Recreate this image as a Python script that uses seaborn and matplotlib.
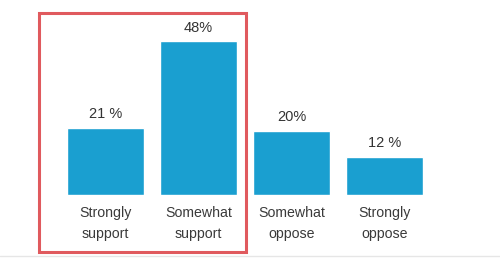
import matplotlib
matplotlib.use("Agg")
import matplotlib.pyplot as plt
import seaborn as sns
import pandas as pd
from matplotlib.patches import Rectangle
from matplotlib.lines import Line2D

categories = ["Strongly\nsupport", "Somewhat\nsupport", "Somewhat\noppose", "Strongly\noppose"]
values = [21, 48, 20, 12]
value_labels = ["21 %", "48%", "20%", "12 %"]

sns.set_theme(style="white")
plt.rcParams['font.family'] = ['Liberation Sans', 'DejaVu Sans']

W, H = 500, 260
fig = plt.figure(figsize=(5, 2.6), dpi=100)
fig.patch.set_facecolor("white")
bottom_px = 65
ax = fig.add_axes([0, bottom_px / H, 1, (H - bottom_px) / H])

df = pd.DataFrame({"cat": categories, "val": values})
sns.barplot(data=df, x="cat", y="val", color="#1a9fd0", saturation=1, width=0.83, ax=ax)

scale = 3.2
ax.set_xlim(-105.5 / 93, (W - 105.5) / 93)
ax.set_ylim(0, (H - bottom_px) / scale)

for i, (v, lab) in enumerate(zip(values, value_labels)):
    ax.annotate(lab, (i, v), xytext=(0, 10), textcoords="offset points",
                ha="center", va="center", fontsize=10.5, color="#333333")

ax.set_xlabel("")
ax.set_ylabel("")
ax.set_yticks([])
ax.tick_params(axis="x", length=0, pad=8, labelsize=10.2, labelcolor="#3a3a3a")
for lbl in ax.get_xticklabels():
    lbl.set_linespacing(1.65)
for s in ax.spines.values():
    s.set_visible(False)

# highlight box
rect = Rectangle((39 / W, 1 - 252 / H), (246 - 39) / W, (252 - 13) / H,
                 transform=fig.transFigure, fill=False, edgecolor="#e05a5e", linewidth=2.2)
fig.patches.append(rect)
fig.lines.append(Line2D([0, 1], [1 - 256 / H, 1 - 256 / H], transform=fig.transFigure,
                        color="#e6e6e6", linewidth=1))

fig.savefig("out.png", dpi=100)
